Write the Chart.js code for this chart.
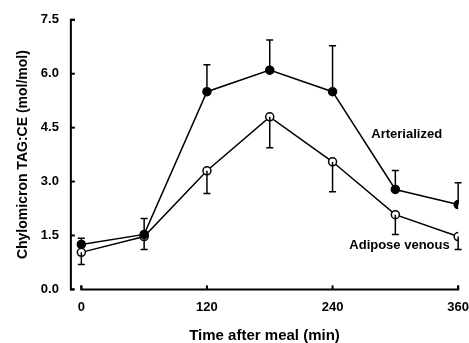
<!DOCTYPE html>
<html>
<head>
<meta charset="utf-8">
<script src="https://cdn.jsdelivr.net/npm/chart.js@4.4.0/dist/chart.umd.min.js"></script>
<style>
  html, body { margin: 0; padding: 0; background: #fff; }
  #wrap { width: 469px; height: 343px; }
</style>
</head>
<body>
<div id="wrap"><canvas id="chart"></canvas></div>
<script>
// Sampling times (min)
const times = [0, 60, 120, 180, 240, 300, 360];

// Arterialized plasma (filled circles), SEM drawn upward
const arterialized = [1.25, 1.53, 5.5, 6.1, 5.5, 2.78, 2.36];
const arterializedErr = [0.17, 0.44, 0.75, 0.84, 1.28, 0.53, 0.61];

// Adipose venous plasma (open circles), SEM drawn downward
const adiposeVenous = [1.03, 1.47, 3.3, 4.8, 3.55, 2.08, 1.47];
const adiposeVenousErr = [0.34, 0.36, 0.63, 0.86, 0.83, 0.55, 0.36];

const xTicks = [0, 120, 240, 360];
const yTicks = [0, 1.5, 3, 4.5, 6, 7.5];

const fontFamily = "'Liberation Sans', Arial, sans-serif";

// error bars, axis lines and the two series labels
const extrasPlugin = {
    id: 'extras',
    afterDatasetsDraw(chart) {
        const ctx = chart.ctx;
        const x = chart.scales.x, y = chart.scales.y;
        ctx.save();
        ctx.strokeStyle = '#000';
        ctx.lineWidth = 1.5;

        // error bars
        const drawBars = (vals, errs, dir) => {
            vals.forEach((v, i) => {
                const px = x.getPixelForValue(times[i]);
                const p0 = y.getPixelForValue(v);
                const p1 = y.getPixelForValue(v + dir * errs[i]);
                ctx.beginPath();
                ctx.moveTo(px, p0);
                ctx.lineTo(px, p1);
                ctx.moveTo(px - 3.5, p1);
                ctx.lineTo(px + 3.5, p1);
                ctx.stroke();
            });
        };
        drawBars(arterialized, arterializedErr, 1);
        drawBars(adiposeVenous, adiposeVenousErr, -1);

        // axes
        const left = chart.chartArea.left;
        const bottom = y.getPixelForValue(0);
        const top = y.getPixelForValue(7.5);
        ctx.lineWidth = 2;
        ctx.beginPath();
        ctx.moveTo(left + 4, top);
        ctx.lineTo(left, top);
        ctx.lineTo(left, bottom);
        ctx.lineTo(left + 3, bottom);
        ctx.stroke();
        yTicks.forEach(t => {
            const py = y.getPixelForValue(t);
            ctx.beginPath();
            ctx.moveTo(left, py);
            ctx.lineTo(left + 4, py);
            ctx.stroke();
        });
        const x0 = x.getPixelForValue(0), x1 = x.getPixelForValue(360);
        ctx.beginPath();
        ctx.moveTo(x0, bottom - 4);
        ctx.lineTo(x0, bottom);
        ctx.lineTo(x1, bottom);
        ctx.lineTo(x1, bottom - 4);
        ctx.stroke();
        xTicks.forEach(t => {
            const px = x.getPixelForValue(t);
            ctx.beginPath();
            ctx.moveTo(px, bottom);
            ctx.lineTo(px, bottom - 4);
            ctx.stroke();
        });

        // series labels
        ctx.fillStyle = '#000';
        ctx.font = 'bold 13px ' + fontFamily;
        ctx.textBaseline = 'middle';
        ctx.textAlign = 'left';
        ctx.fillText('Arterialized', x.getPixelForValue(277), y.getPixelForValue(4.31));
        ctx.fillText('Adipose venous', x.getPixelForValue(256), y.getPixelForValue(1.22));
        ctx.restore();
    }
};

new Chart(document.getElementById('chart'), {
    type: 'line',
    data: {
        datasets: [{
            label: 'Arterialized',
            data: times.map((t, i) => ({ x: t, y: arterialized[i] })),
            borderColor: '#000',
            borderWidth: 1.5,
            pointBackgroundColor: '#000',
            pointBorderColor: '#000',
            pointRadius: 4,
            pointBorderWidth: 1.5
        }, {
            label: 'Adipose venous',
            data: times.map((t, i) => ({ x: t, y: adiposeVenous[i] })),
            borderColor: '#000',
            borderWidth: 1.5,
            pointBackgroundColor: '#fff',
            pointBorderColor: '#000',
            pointRadius: 4,
            pointBorderWidth: 1.5
        }]
    },
    options: {
        responsive: true,
        maintainAspectRatio: false,
        animation: false,
        layout: { padding: { top: 10, right: 0, left: 11, bottom: 0 } },
        plugins: {
            legend: { display: false },
            tooltip: { enabled: false }
        },
        scales: {
            x: {
                type: 'linear',
                min: -10,
                max: 360,
                afterBuildTicks: axis => { axis.ticks = xTicks.map(v => ({ value: v })); },
                // invisible tick marks only reserve the gap under the axis
                grid: {
                    display: true,
                    color: 'rgba(0,0,0,0)',
                    drawOnChartArea: false,
                    drawTicks: true,
                    tickLength: 10
                },
                border: { display: false },
                ticks: {
                    color: '#000',
                    padding: 0,
                    maxRotation: 0,
                    font: { family: fontFamily, size: 13, weight: 'bold' }
                },
                title: {
                    display: true,
                    text: 'Time after meal (min)',
                    color: '#000',
                    padding: { top: 13, bottom: 0 },
                    font: { family: fontFamily, size: 15, weight: 'bold', lineHeight: 1 }
                }
            },
            y: {
                min: 0,
                max: 7.5,
                afterBuildTicks: axis => { axis.ticks = yTicks.map(v => ({ value: v })); },
                grid: { display: false, drawTicks: false },
                border: { display: false },
                ticks: {
                    color: '#000',
                    padding: 12,
                    callback: v => v.toFixed(1),
                    font: { family: fontFamily, size: 13, weight: 'bold' }
                },
                title: {
                    display: true,
                    text: 'Chylomicron TAG:CE (mol/mol)',
                    color: '#000',
                    padding: { top: 4, bottom: -3 },
                    font: { family: fontFamily, size: 14, weight: 'bold' }
                }
            }
        }
    },
    plugins: [extrasPlugin]
});
</script>
</body>
</html>
